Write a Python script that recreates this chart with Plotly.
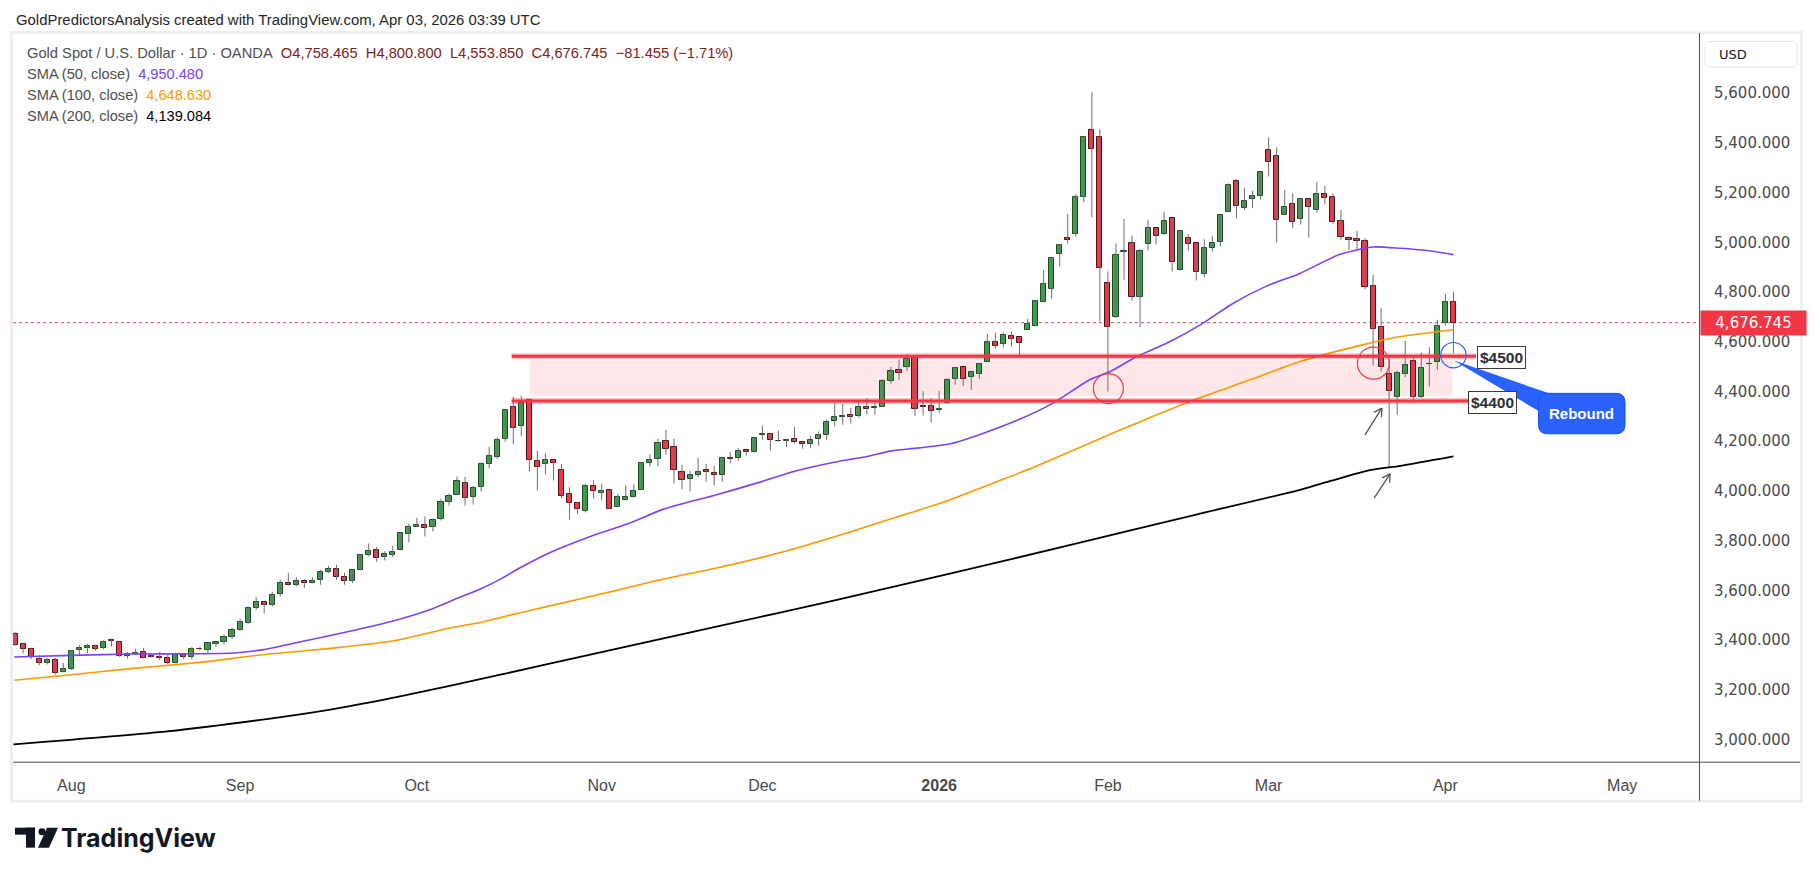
import math
import pandas as pd
import plotly.graph_objects as go

# ------------------------------------------------------------------ data
START_DATE = "2025-07-23"          # first visible daily bar
HOLIDAYS = ["2025-12-25", "2026-01-01"]

OPEN = [
    3424.3, 3384.0, 3365.0, 3325.0, 3307.6, 3320.0, 3271.0,
    3283.5, 3358.5, 3367.9, 3376.0, 3367.9, 3401.5, 3392.0, 3335.7, 3343.8, 3351.8,
    3334.5, 3331.0, 3327.7, 3309.0, 3343.8, 3331.7, 3366.0, 3359.9, 3384.0, 3392.0,
    3412.0, 3440.3, 3468.4, 3527.4, 3552.8, 3539.4, 3583.6, 3629.2, 3619.8, 3637.2,
    3627.9, 3640.0, 3673.4, 3685.5, 3653.3, 3635.9, 3680.1, 3740.5, 3761.9, 3732.4,
    3740.5, 3760.6, 3826.2, 3855.7, 3861.1, 3853.0, 3885.2, 3954.9, 3983.0, 4031.3,
    3975.0, 4015.3, 4107.8, 4135.9, 4208.3, 4336.9, 4263.2, 4365.1, 4119.8, 4107.8,
    4123.8, 4083.6, 3987.1, 3951.0, 3917.4, 4019.3, 3991.2, 4003.2, 3934.9, 3963.0,
    3975.1, 4003.2, 4111.8, 4126.5, 4200.2, 4176.1, 4074.2, 4047.4, 4062.1, 4085.0,
    4071.6, 4062.1, 4133.2, 4131.9, 4164.1, 4154.7, 4223.0, 4228.4, 4202.0, 4201.6,
    4209.6, 4196.2, 4188.2, 4207.0, 4223.0, 4279.3, 4298.1, 4304.8, 4300.8, 4337.0,
    4335.6, 4336.9, 4444.2, 4485.7, 4500.5, 4542.0, 4342.0, 4340.9, 4324.9, 4353.0,
    4452.2, 4497.7, 4460.2, 4472.3, 4520.5, 4598.4, 4590.3, 4622.4, 4618.4, 4649.2,
    4665.3, 4761.8, 4814.1, 4952.1, 5016.4, 5035.2, 5181.3, 5450.7, 5422.6, 4835.5,
    4701.5, 4962.0, 4996.4, 4779.2, 4992.3, 5056.7, 5032.5, 5096.9, 4887.8, 5016.4,
    4996.4, 4871.7, 4976.2, 5000.4, 5121.0, 5245.6, 5137.1, 5173.3, 5185.3, 5370.3,
    5346.2, 5109.0, 5153.2, 5092.9, 5173.3, 5129.0, 5193.4, 5181.3, 5084.8, 5016.4,
    5012.4, 5004.4, 4823.4, 4658.6, 4469.6, 4379.8, 4470.9, 4521.8, 4379.8, 4512.0,
    4517.8, 4674.6, 4758.465,
]
HIGH = [
    3432.0, 3389.0, 3369.0, 3338.4, 3329.0, 3329.0, 3307.6,
    3359.9, 3380.0, 3385.3, 3380.0, 3398.7, 3406.8, 3394.7, 3351.8, 3365.2, 3369.2,
    3343.8, 3351.8, 3341.0, 3343.8, 3349.0, 3372.0, 3373.0, 3386.6, 3392.0, 3421.5,
    3449.6, 3485.9, 3535.4, 3574.3, 3554.0, 3594.4, 3642.6, 3670.8, 3653.3, 3645.3,
    3653.3, 3682.8, 3698.9, 3702.9, 3670.8, 3682.8, 3747.2, 3788.7, 3775.3, 3757.9,
    3779.3, 3833.0, 3867.8, 3891.9, 3897.3, 3889.2, 3968.3, 3989.7, 4058.1, 4056.7,
    4020.6, 4114.5, 4177.4, 4215.0, 4330.3, 4378.5, 4382.5, 4373.1, 4161.4, 4152.0,
    4125.2, 4107.8, 4015.3, 3955.0, 4028.7, 4043.4, 4028.7, 4003.2, 3988.5, 4023.3,
    4026.0, 4114.4, 4146.6, 4209.6, 4245.8, 4209.6, 4105.1, 4080.9, 4133.2, 4109.1,
    4101.1, 4137.2, 4156.0, 4173.4, 4164.1, 4216.3, 4261.9, 4233.7, 4241.8, 4207.0,
    4257.9, 4197.6, 4221.7, 4239.1, 4286.0, 4357.0, 4350.3, 4334.3, 4359.7, 4374.5,
    4359.7, 4449.5, 4499.1, 4528.6, 4551.4, 4542.0, 4401.3, 4374.5, 4402.6, 4453.6,
    4499.1, 4497.7, 4477.6, 4515.2, 4631.8, 4635.8, 4637.1, 4641.2, 4619.7, 4692.1,
    4768.5, 4889.1, 4940.1, 4993.7, 5114.3, 5193.4, 5427.9, 5603.5, 5454.7, 4883.8,
    4996.4, 5094.2, 5027.2, 4972.2, 5090.2, 5056.7, 5122.3, 5096.9, 5050.0, 5032.5,
    4996.4, 5012.4, 5025.8, 5109.0, 5237.6, 5255.0, 5218.9, 5206.8, 5281.8, 5422.6,
    5382.4, 5210.8, 5197.4, 5180.0, 5173.3, 5243.0, 5226.9, 5197.4, 5130.4, 5023.2,
    5045.9, 5016.4, 4869.0, 4735.0, 4533.9, 4484.3, 4603.6, 4537.9, 4556.7, 4578.1,
    4688.0, 4792.6, 4800.8,
]
LOW = [
    3377.0, 3346.5, 3324.0, 3298.0, 3302.0, 3260.7, 3270.0,
    3279.5, 3340.0, 3347.8, 3357.2, 3362.5, 3374.6, 3333.0, 3326.3, 3339.8, 3325.0,
    3330.4, 3319.6, 3303.6, 3306.0, 3322.3, 3322.3, 3357.0, 3347.8, 3372.0, 3382.6,
    3404.1, 3437.6, 3465.7, 3522.0, 3507.3, 3535.4, 3575.6, 3618.5, 3615.8, 3610.4,
    3627.9, 3622.5, 3669.4, 3642.6, 3622.5, 3629.2, 3680.1, 3736.4, 3715.0, 3720.4,
    3733.8, 3760.6, 3792.7, 3854.4, 3816.9, 3837.0, 3881.2, 3941.5, 3983.0, 3941.5,
    3945.5, 3997.9, 4090.3, 4129.2, 4198.9, 4186.9, 4219.0, 4078.3, 4001.9, 4066.2,
    4042.1, 3971.0, 3885.3, 3906.7, 3913.4, 3969.7, 3961.7, 3926.8, 3934.9, 3961.7,
    3973.7, 4003.2, 4098.4, 4099.7, 4145.3, 4030.0, 4005.9, 3997.9, 4055.5, 4036.7,
    4022.0, 4036.7, 4110.4, 4121.2, 4142.6, 4154.7, 4205.6, 4162.7, 4197.6, 4176.1,
    4190.9, 4169.4, 4172.1, 4181.5, 4204.3, 4259.2, 4265.9, 4271.3, 4295.4, 4307.5,
    4306.1, 4336.9, 4430.8, 4446.9, 4483.0, 4302.1, 4303.4, 4275.3, 4312.8, 4350.3,
    4426.7, 4422.7, 4406.6, 4450.8, 4520.5, 4571.5, 4576.8, 4580.9, 4540.7, 4649.2,
    4661.3, 4757.8, 4772.5, 4902.5, 4996.4, 5023.2, 5161.2, 5100.9, 4681.4, 4400.0,
    4694.8, 4848.9, 4765.8, 4658.6, 4966.9, 4991.0, 5028.5, 4882.4, 4885.1, 4965.5,
    4846.2, 4858.3, 4962.9, 4982.9, 5121.0, 5095.5, 5130.4, 5137.1, 5171.9, 5264.4,
    4999.0, 5109.0, 5056.7, 5071.4, 5019.1, 5119.7, 5153.2, 5072.8, 5009.8, 4969.5,
    4969.5, 4811.4, 4504.4, 4480.3, 4098.3, 4306.0, 4457.5, 4352.9, 4373.1, 4420.0,
    4487.0, 4665.2, 4553.85,
]
CLOSE = [
    3378.6, 3364.0, 3332.0, 3307.6, 3321.0, 3267.4, 3284.7,
    3355.9, 3367.9, 3376.0, 3363.9, 3392.0, 3398.0, 3334.4, 3343.8, 3347.8, 3327.7,
    3331.5, 3328.0, 3306.0, 3343.8, 3330.4, 3363.9, 3363.0, 3386.6, 3392.0, 3412.0,
    3441.6, 3472.4, 3528.7, 3554.2, 3539.4, 3581.0, 3629.2, 3621.2, 3637.2, 3627.9,
    3638.6, 3674.8, 3685.5, 3653.3, 3635.9, 3682.8, 3741.8, 3759.2, 3728.4, 3747.2,
    3755.2, 3830.3, 3855.7, 3863.7, 3850.4, 3882.5, 3954.9, 3980.4, 4039.3, 3971.0,
    4011.2, 4107.8, 4138.6, 4204.3, 4324.9, 4252.5, 4353.1, 4123.8, 4095.7, 4123.8,
    4110.4, 3979.1, 3951.0, 3926.8, 4020.7, 3999.2, 3999.2, 3926.8, 3975.1, 3975.1,
    3999.2, 4111.8, 4123.8, 4190.9, 4168.1, 4083.6, 4043.4, 4063.5, 4075.6, 4074.2,
    4062.1, 4133.2, 4127.9, 4160.0, 4154.7, 4212.3, 4228.4, 4202.9, 4199.0, 4205.6,
    4194.9, 4186.9, 4204.3, 4224.4, 4276.6, 4296.7, 4302.1, 4299.4, 4337.0, 4327.6,
    4338.3, 4441.5, 4481.7, 4476.3, 4530.0, 4328.9, 4338.3, 4320.8, 4328.9, 4445.5,
    4493.7, 4452.2, 4477.6, 4509.8, 4598.4, 4584.9, 4626.4, 4613.0, 4594.3, 4670.7,
    4764.5, 4831.5, 4936.1, 4989.7, 5008.4, 5181.3, 5422.6, 5374.3, 4895.8, 4658.6,
    4948.1, 4964.5, 4779.2, 4964.2, 5056.7, 5024.5, 5084.8, 4922.6, 5045.9, 4992.3,
    4879.8, 4976.2, 4996.4, 5109.0, 5229.6, 5145.1, 5165.2, 5185.3, 5281.8, 5322.0,
    5088.8, 5141.1, 5080.8, 5173.3, 5141.1, 5193.4, 5177.3, 5080.8, 5020.5, 5008.4,
    5004.4, 4819.4, 4650.6, 4497.8, 4403.9, 4473.6, 4505.8, 4377.1, 4493.7, 4509.0,
    4665.2, 4759.1, 4676.745,
]

# moving averages (bar position, value)
SMA50_X = [-7.1, 0, 7.7, 16, 20.2, 23.7, 29.3, 35.5, 39.7, 44.6, 47.1, 48.8, 50.9, 53.4,
           55.8, 59.6, 64.6, 69.5, 73.7, 80.3, 85.7, 89.9, 94.8, 99.0, 101.9, 105.2,
           109.4, 113, 118, 122, 126.8, 129.3, 132.6, 136.3, 140.5, 144.6, 148.8,
           152.9, 157.9, 162.0, 165.4, 168.7, 172]
SMA50_Y = [3331.7, 3338.4, 3343.8, 3345.1, 3347.8, 3360.5, 3398.7, 3441.6, 3473.7, 3522.0,
           3555.5, 3578.3, 3605.1, 3645.3, 3690.0, 3752.6, 3816.9, 3870.5, 3926.8, 3984.5,
           4035.4, 4078.3, 4114.5, 4138.6, 4160.0, 4172.1, 4189.5, 4226.0, 4288.0, 4350.0,
           4448.0, 4480.3, 4540.7, 4594.3, 4668.0, 4755.1, 4824.8, 4875.0, 4952.0, 4981.5,
           4976.0, 4966.8, 4950.48]
SMA100_X = [-7.1, 0, 7.7, 16, 23.5, 32.6, 39.9, 47.1, 50.9, 53.4, 58, 63, 68, 73.7, 80.3,
            88.6, 96.9, 104.4, 109.4, 115, 120, 125, 130, 135, 140, 146.7, 152.9, 161.2,
            165.4, 172]
SMA100_Y = [3238.5, 3260.7, 3286.2, 3310.3, 3339.8, 3367.8, 3396.0, 3448.3, 3471.0, 3491.1,
            3526.0, 3563.0, 3601.0, 3645.4, 3690.0, 3755.0, 3835.0, 3912.0, 3965.0, 4035.0,
            4098.0, 4168.0, 4238.0, 4305.0, 4370.0, 4446.8, 4520.5, 4591.5, 4621.0, 4648.63]
SMA200_X = [-7.2, 11.9, 24.3, 32.6, 40.9, 53.4, 65, 80, 95, 110, 125, 140, 152.9, 161.2,
            165.4, 172]
SMA200_Y = [2980.5, 3032.8, 3082.4, 3122.6, 3173.5, 3260.6, 3345.0, 3452.0, 3560.0, 3672.0,
            3788.0, 3905.0, 4004.5, 4080.9, 4101.0, 4139.084]

Y_TICKS = [3000, 3200, 3400, 3600, 3800, 4000, 4200, 4400, 4600, 4800, 5000, 5200, 5400, 5600]
MONTHS = ["2025-08", "2025-09", "2025-10", "2025-11", "2025-12", "2026-01", "2026-02",
          "2026-03", "2026-04", "2026-05"]
MONTH_TEXT = ["Aug", "Sep", "Oct", "Nov", "Dec", "<b>2026</b>", "Feb", "Mar", "Apr", "May"]

LAST_PRICE = 4676.745
LEVEL_HI, LEVEL_LO = 4542, 4362          # drawn support lines ($4500 / $4400)
ZONE_TOP, ZONE_BOT = 4525, 4382          # shaded zone

# ------------------------------------------------------------------ geometry
W, H = 1814, 877
PL, PR, PT, PB = 13, 1699, 34, 762.3
X_RANGE = [-7.26, 202.56]
Y_RANGE = [2909.6, 5838.0]

def dx(X):
    return X_RANGE[0] + (X - PL) / (PR - PL) * (X_RANGE[1] - X_RANGE[0])

def dy(Y):
    return Y_RANGE[1] - (Y - PT) / (PB - PT) * (Y_RANGE[1] - Y_RANGE[0])

def to_px(x, y):
    X = PL + (x - X_RANGE[0]) / (X_RANGE[1] - X_RANGE[0]) * (PR - PL)
    Y = PT + (Y_RANGE[1] - y) / (Y_RANGE[1] - Y_RANGE[0]) * (PB - PT)
    return X, Y

def px(X):
    return (X - PL) / (PR - PL)

def py(Y):
    return (PB - Y) / (PB - PT)

# ------------------------------------------------------------------ x positions
bdays = [d for d in pd.bdate_range(START_DATE, "2026-05-29")
         if d.strftime("%Y-%m-%d") not in HOLIDAYS]
OFFSET = 7
xs = list(range(-OFFSET, -OFFSET + len(CLOSE)))
month_pos = []
for m in MONTHS:
    for p, d in enumerate(bdays):
        if d.strftime("%Y-%m") == m:
            month_pos.append(p - OFFSET)
            break

# ------------------------------------------------------------------ colours
UP_FILL, UP_LINE = "#3F9F4A", "#1D4A26"
DN_FILL, DN_LINE = "#F23645", "#4E1015"
WICK = "#6E6E6E"
RED = "#F23645"
BLUE = "#2962FF"
C50, C100, C200 = "#7B42F6", "#FF9800", "#000000"
TXT = "#131722"
AX = "#4A4A4A"
FONT = "Liberation Sans, Arial, sans-serif"

fig = go.Figure()

# wicks
wx, wy = [], []
for x, h, l in zip(xs, HIGH, LOW):
    wx += [x, x, None]
    wy += [l, h, None]
fig.add_trace(go.Scatter(x=wx, y=wy, mode="lines", line=dict(color=WICK, width=1),
                         hoverinfo="skip"))

# bodies
up = [c >= o for o, c in zip(OPEN, CLOSE)]
fig.add_trace(go.Bar(
    x=xs, base=OPEN, y=[c - o for o, c in zip(OPEN, CLOSE)], width=0.64,
    marker=dict(color=[UP_FILL if u else DN_FILL for u in up],
                line=dict(color=[UP_LINE if u else DN_LINE for u in up], width=1)),
    hoverinfo="skip"))

# moving averages
for sx, sy, col, w in [(SMA200_X, SMA200_Y, C200, 1.8),
                       (SMA100_X, SMA100_Y, C100, 1.6),
                       (SMA50_X, SMA50_Y, C50, 1.6)]:
    fig.add_trace(go.Scatter(x=sx, y=sy, mode="lines",
                             line=dict(color=col, width=w, shape="spline", smoothing=0.6),
                             hoverinfo="skip"))

shapes = []
# shaded zone
shapes.append(dict(type="rect", xref="x", yref="y", x0=57.1, x1=171.9,
                   y0=ZONE_BOT, y1=ZONE_TOP, fillcolor="rgba(242,54,69,0.12)",
                   line=dict(width=0), layer="below"))
# last price dotted line
shapes.append(dict(type="line", xref="paper", yref="y", x0=0, x1=1,
                   y0=LAST_PRICE, y1=LAST_PRICE,
                   line=dict(color=RED, width=1, dash="dot"), layer="below"))
# support lines
for y, x1 in [(LEVEL_HI, 174.8), (LEVEL_LO, 173.9)]:
    shapes.append(dict(type="line", xref="x", yref="y", x0=54.8, x1=x1, y0=y, y1=y,
                       line=dict(color="rgba(242,54,69,0.30)", width=6)))
    shapes.append(dict(type="line", xref="x", yref="y", x0=54.8, x1=x1, y0=y, y1=y,
                       line=dict(color=RED, width=3)))

# circles (centre bar, centre price, radius px)
px_per_x = (PR - PL) / (X_RANGE[1] - X_RANGE[0])
px_per_y = (PB - PT) / (Y_RANGE[1] - Y_RANGE[0])
for cx, cy, r, col in [(129.06, 4411.8, 15, RED), (162.04, 4514, 16, RED),
                       (172.0, 4546, 12.7, BLUE)]:
    shapes.append(dict(type="circle", xref="x", yref="y",
                       x0=cx - r / px_per_x, x1=cx + r / px_per_x,
                       y0=cy - r / px_per_y, y1=cy + r / px_per_y,
                       line=dict(color=col, width=1.2)))

# arrows (tail -> head in bar/price)
ARROWS = [((161.0, 4225.7), (163.09, 4333.0)), ((162.13, 3971.1), (164.12, 4068.8))]
for tail, head in ARROWS:
    X0, Y0 = to_px(*tail)
    X1, Y1 = to_px(*head)
    shapes.append(dict(type="line", xref="x", yref="y", x0=tail[0], y0=tail[1],
                       x1=head[0], y1=head[1], line=dict(color="#555555", width=1.3)))
    ang = math.atan2(Y1 - Y0, X1 - X0)
    for s in (1, -1):
        a = ang + math.pi + s * math.radians(30)
        hx, hy = X1 + 9 * math.cos(a), Y1 + 9 * math.sin(a)
        shapes.append(dict(type="line", xref="x", yref="y", x0=head[0], y0=head[1],
                           x1=dx(hx), y1=dy(hy), line=dict(color="#555555", width=1.3)))

# Rebound callout (tail + rounded box), positioned relative to the blue circle
bx0, bx1, by0, by1, rr = 1538.5, 1625.0, 393.5, 434.0, 9
cX, cY = to_px(172.0, 4546)
tail_path = "M {},{} L {},{} L {},{} Z".format(
    px(cX), py(cY + 5), px(bx0 + 12), py(by0 + 0.5), px(bx0 + 0.5), py(by0 + 18))
shapes.append(dict(type="path", xref="paper", yref="paper", path=tail_path,
                   fillcolor=BLUE, line=dict(width=0)))
def P(X, Y):
    return "{},{}".format(px(X), py(Y))
box_path = ("M " + P(bx0 + rr, by0) + " L " + P(bx1 - rr, by0) + " Q " + P(bx1, by0) + " " + P(bx1, by0 + rr)
            + " L " + P(bx1, by1 - rr) + " Q " + P(bx1, by1) + " " + P(bx1 - rr, by1)
            + " L " + P(bx0 + rr, by1) + " Q " + P(bx0, by1) + " " + P(bx0, by1 - rr)
            + " L " + P(bx0, by0 + rr) + " Q " + P(bx0, by0) + " " + P(bx0 + rr, by0) + " Z")
shapes.append(dict(type="path", xref="paper", yref="paper", path=box_path,
                   fillcolor=BLUE, line=dict(color="#1F4FE0", width=1)))

# chart frame, axis separators
shapes.append(dict(type="rect", xref="paper", yref="paper", x0=px(11.5), x1=px(1801.5),
                   y0=py(801.5), y1=py(32.5), line=dict(color="#EDEEF1", width=3)))
shapes.append(dict(type="line", xref="paper", yref="paper", x0=px(1699.5), x1=px(1699.5),
                   y0=py(33), y1=py(801), line=dict(color="#505050", width=1)))
shapes.append(dict(type="line", xref="paper", yref="paper", x0=px(13), x1=px(1800),
                   y0=py(762.5), y1=py(762.5), line=dict(color="#505050", width=1)))
# USD box
ux0, ux1, uy0, uy1, ur = 1705, 1797, 41.5, 67, 5
usd_path = ("M " + P(ux0 + ur, uy0) + " L " + P(ux1 - ur, uy0) + " Q " + P(ux1, uy0) + " " + P(ux1, uy0 + ur)
            + " L " + P(ux1, uy1 - ur) + " Q " + P(ux1, uy1) + " " + P(ux1 - ur, uy1)
            + " L " + P(ux0 + ur, uy1) + " Q " + P(ux0, uy1) + " " + P(ux0, uy1 - ur)
            + " L " + P(ux0, uy0 + ur) + " Q " + P(ux0, uy0) + " " + P(ux0 + ur, uy0) + " Z")
shapes.append(dict(type="path", xref="paper", yref="paper", path=usd_path,
                   fillcolor="white", line=dict(color="#E3E5EA", width=1)))

# TradingView logo mark
shapes.append(dict(type="rect", xref="paper", yref="paper", x0=px(15), x1=px(35),
                   y0=py(835), y1=py(828), fillcolor=TXT, line=dict(width=0)))
shapes.append(dict(type="rect", xref="paper", yref="paper", x0=px(26), x1=px(35),
                   y0=py(848), y1=py(828), fillcolor=TXT, line=dict(width=0)))
shapes.append(dict(type="circle", xref="paper", yref="paper", x0=px(38.5), x1=px(45.5),
                   y0=py(835.5), y1=py(828.5), fillcolor=TXT, line=dict(width=0)))
shapes.append(dict(type="path", xref="paper", yref="paper",
                   path="M " + P(47, 828) + " L " + P(58, 828) + " L " + P(49, 848) + " L " + P(38, 848) + " Z",
                   fillcolor=TXT, line=dict(width=0)))

NB = "\u00a0"
annotations = []
def add_text(X, Y, text, size, color=TXT, family=FONT, xanchor="left", **kw):
    annotations.append(dict(xref="paper", yref="paper", x=px(X), y=py(Y), text=text,
                            showarrow=False, xanchor=xanchor, yanchor="middle",
                            font=dict(family=family, size=size, color=color), **kw))

add_text(14, 20, "GoldPredictorsAnalysis created with TradingView.com, Apr 03, 2026 03:39 UTC", 14.9,
         color="#262626")
VAL = "#7A2323"
line1 = ("<span style='color:#4F4F4F'>Gold Spot / U.S. Dollar · 1D · OANDA</span>" + NB * 2 +
         "<span style='color:" + VAL + "'>O4,758.465" + NB * 2 + "H4,800.800" + NB * 2 + "L4,553.850"
         + NB * 2 + "C4,676.745" + NB * 2 + "−81.455 (−1.71%)</span>")
add_text(25, 53.5, line1, 14.7)
add_text(25, 74.5, "<span style='color:#4F4F4F'>SMA (50, close)</span>" + NB * 2 +
         "<span style='color:" + C50 + "'>4,950.480</span>", 14.6)
add_text(25, 95.5, "<span style='color:#4F4F4F'>SMA (100, close)</span>" + NB * 2 +
         "<span style='color:" + C100 + "'>4,648.630</span>", 14.6)
add_text(25, 116.5, "<span style='color:#4F4F4F'>SMA (200, close)</span>" + NB * 2 +
         "<span style='color:#000000'>4,139.084</span>", 14.6)

# level labels
for X, Y, t in [(1476.7, 358, "$4500"), (1468.3, 403, "$4400")]:
    add_text(X, Y, "<b>" + t + "</b>", 15.5, color="#2A2E39", bgcolor="white",
             bordercolor="#3A3A3A", borderwidth=1, borderpad=2)
add_text((bx0 + bx1) / 2, (by0 + by1) / 2, "<b>Rebound</b>", 15, color="white", xanchor="center")

# last price label on the axis
annotations.append(dict(xref="paper", yref="y", x=px(1699.5), y=LAST_PRICE, text="4,676.745",
                        showarrow=False, xanchor="left", yanchor="middle", width=103, height=22,
                        align="center", bgcolor=RED, borderpad=1,
                        font=dict(family="DejaVu Sans", size=15, color="white")))
add_text(1717, 54.5, "USD", 13, color=TXT, family="DejaVu Sans")
add_text(59, 838, "<b>TradingView</b>", 25, color=TXT, family="Inter, Liberation Sans, sans-serif")

fig.update_layout(
    width=W, height=H,
    margin=dict(l=PL, r=W - PR, t=PT, b=H - PB, pad=0),
    paper_bgcolor="white", plot_bgcolor="white",
    showlegend=False, hovermode=False, bargap=0,
    shapes=shapes, annotations=annotations,
    xaxis=dict(range=X_RANGE, showgrid=False, zeroline=False, showline=False,
               tickmode="array", tickvals=month_pos, ticktext=MONTH_TEXT,
               ticks="outside", ticklen=9, tickcolor="rgba(0,0,0,0)",
               tickfont=dict(family=FONT, size=16, color=AX), automargin=False,
               fixedrange=True),
    yaxis=dict(range=Y_RANGE, side="right", showgrid=False, zeroline=False, showline=False,
               tickmode="array", tickvals=Y_TICKS,
               ticktext=["{:,.3f}".format(v) for v in Y_TICKS],
               ticks="outside", ticklen=11, tickcolor="rgba(0,0,0,0)",
               tickfont=dict(family="DejaVu Sans", size=15, color=AX), automargin=False,
               fixedrange=True),
)

fig.write_html("out.html")
